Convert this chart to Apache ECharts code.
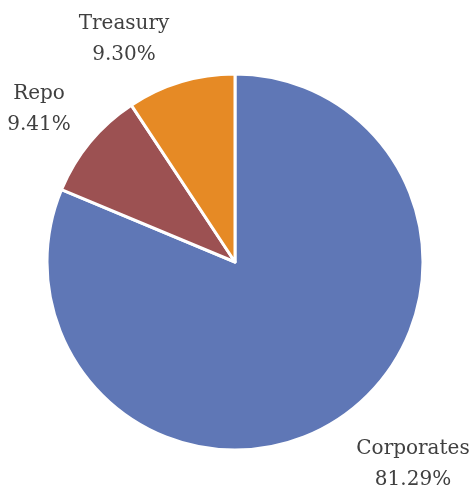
<!DOCTYPE html>
<html><head><meta charset="utf-8">
<script src="https://cdn.jsdelivr.net/npm/echarts@6/dist/echarts.min.js"></script>
<style>html,body{margin:0;padding:0;background:#fff}#c{width:474px;height:492px}</style>
</head><body><div id="c"></div>
<script>
const categories = ["Corporates", "Repo", "Treasury"];
const values = [81.29, 9.41, 9.30];
const colors = ["#5f77b6", "#9c5152", "#e68a25"];
const labelPos = [[413, 464], [39, 109], [124, 39]];

const chart = echarts.init(document.getElementById('c'), null, {renderer: 'canvas'});
chart.setOption({
  animation: false,
  series: [{
    type: 'pie',
    center: [235, 262],
    radius: [0, 188],
    startAngle: 90,
    clockwise: true,
    data: categories.map((c, i) => ({name: c, value: values[i], itemStyle: {color: colors[i]}})),
    itemStyle: {borderColor: '#fff', borderWidth: 3},
    label: {
      show: true,
      position: 'outside',
      formatter: p => p.name + '\n' + p.value.toFixed(2) + '%',
      fontFamily: 'DejaVu Serif',
      fontSize: 20,
      lineHeight: 31,
      color: '#404040',
      align: 'center',
      overflow: 'none',
      width: 200
    },
    labelLine: {show: false},
    labelLayout: p => ({x: labelPos[p.dataIndex][0], y: labelPos[p.dataIndex][1], align: 'center', verticalAlign: 'middle'}),
    emphasis: {disabled: true}
  }]
});
</script></body></html>
